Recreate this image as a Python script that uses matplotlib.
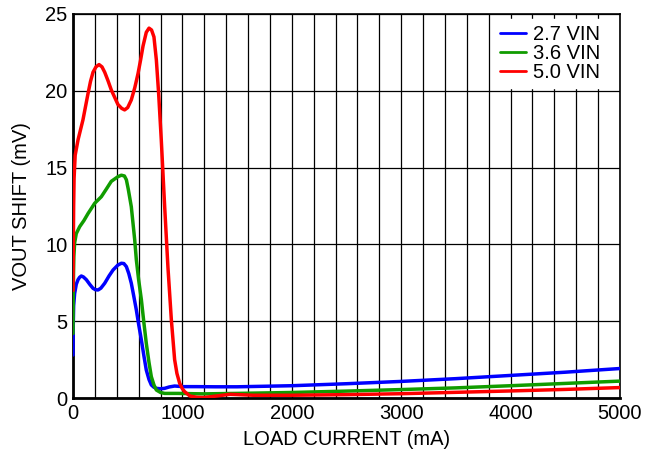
import matplotlib
matplotlib.use("Agg")
import matplotlib.pyplot as plt
from matplotlib.ticker import MultipleLocator

plt.rcParams['font.family'] = ['Liberation Sans', 'DejaVu Sans']

# load current (mA) / output voltage shift (mV) for each input voltage
load_27 = [0, 2, 6, 15, 30, 46, 60, 76, 95, 122, 155, 183, 205, 229, 255, 290,
           330, 366, 410, 442, 465, 488, 510, 533, 555, 579, 600, 625, 648,
           670, 695, 716, 740, 762, 800, 838, 880, 929, 1005, 1127, 1300, 1500,
           2000, 2500, 3000, 3500, 4000, 4500, 5000]
vout_27 = [2.8, 4.6, 6.0, 6.8, 7.4, 7.7, 7.85, 7.94, 7.88, 7.7, 7.38, 7.14, 7.05,
           7.03, 7.15, 7.47, 7.95, 8.33, 8.65, 8.77, 8.75, 8.55, 8.1, 7.47, 6.65,
           5.73, 4.8, 3.78, 2.75, 1.82, 1.2, 0.85, 0.7, 0.63, 0.6, 0.63, 0.72,
           0.78, 0.74, 0.74, 0.73, 0.73, 0.8, 0.93, 1.08, 1.26, 1.47, 1.68, 1.92]

load_36 = [0, 2, 5, 8, 15, 30, 61, 100, 137, 198, 259, 305, 350, 410, 442, 470,
           488, 505, 533, 564, 579, 600, 625, 648, 670, 695, 716, 740, 762,
           800, 838, 960, 1100, 1200, 1500, 2000, 2500, 3000, 3500, 4000, 4500,
           5000]
vout_36 = [4.2, 6.5, 8.2, 9.2, 10.1, 10.7, 11.15, 11.55, 12.0, 12.67, 13.1, 13.6,
           14.1, 14.4, 14.5, 14.45, 14.2, 13.6, 12.45, 10.3, 9.0, 7.7, 6.4, 4.9,
           3.56, 2.3, 1.39, 0.85, 0.52, 0.36, 0.3, 0.3, 0.28, 0.27, 0.3, 0.36,
           0.45, 0.55, 0.66, 0.8, 0.95, 1.1]

load_50 = [0, 3, 6, 10, 20, 46, 91, 137, 160, 183, 210, 238, 265, 290, 320, 350,
           411, 445, 472, 500, 533, 565, 594, 618, 640, 670, 695, 718, 740, 762,
           783, 807, 838, 868, 899, 929, 950, 975, 1000, 1021, 1069, 1130, 1191,
           1300, 1435, 1645, 2000, 2500, 3000, 3500, 4000, 4500, 5000]
vout_50 = [7.0, 10.0, 12.5, 14.3, 15.8, 16.8, 18.1, 19.8, 20.6, 21.2, 21.55, 21.7,
           21.55, 21.2, 20.65, 20.05, 19.1, 18.85, 18.75, 18.9, 19.4, 20.2, 21.1,
           22.0, 22.9, 23.8, 24.07, 23.95, 23.5, 22.0, 19.8, 16.8, 12.45, 8.5,
           5.1, 2.5, 1.6, 0.96, 0.6, 0.41, 0.13, 0.05, 0.03, 0.12, 0.24, 0.18,
           0.18, 0.22, 0.28, 0.37, 0.46, 0.56, 0.68]

labels = ['2.7 VIN', '3.6 VIN', '5.0 VIN']
colors = ['#0000ff', '#109c00', '#ff0000']

fig = plt.figure(figsize=(6.5, 4.62), dpi=100)
ax = fig.add_axes([0.1123, 0.1385, 0.8415, 0.8315])

for xs, ys, lab, c in zip([load_27, load_36, load_50], [vout_27, vout_36, vout_50],
                          labels, colors):
    ax.plot(xs, ys, color=c, lw=2.5, label=lab, solid_capstyle='round',
            solid_joinstyle='round', zorder=3)

ax.set_xlim(0, 5000)
ax.set_ylim(0, 25)
ax.xaxis.set_major_locator(MultipleLocator(1000))
ax.xaxis.set_minor_locator(MultipleLocator(200))
ax.yaxis.set_major_locator(MultipleLocator(5))
ax.grid(which='major', axis='y', color='black', lw=0.9)
ax.grid(which='both', axis='x', color='black', lw=0.9)
ax.tick_params(which='both', length=0, labelsize=14.5, pad=4, colors='black')

for side in ['left', 'bottom']:
    ax.spines[side].set_linewidth(2.0)
for side in ['top', 'right']:
    ax.spines[side].set_linewidth(1.2)

ax.set_xlabel('LOAD CURRENT (mA)', fontsize=14.5, labelpad=5)
ax.set_ylabel('VOUT SHIFT (mV)', fontsize=14.5, labelpad=10)

leg = ax.legend(loc='upper right', bbox_to_anchor=(0.99, 1.008), frameon=True,
                fontsize=14.5, handlelength=1.3, handletextpad=0.35,
                labelspacing=0.0, borderpad=0.3, borderaxespad=0.4,
                fancybox=False)
leg.get_frame().set_edgecolor('white')
leg.get_frame().set_facecolor('white')
leg.get_frame().set_alpha(1)
for line in leg.get_lines():
    line.set_linewidth(2.0)

fig.savefig('out.png', dpi=100)
